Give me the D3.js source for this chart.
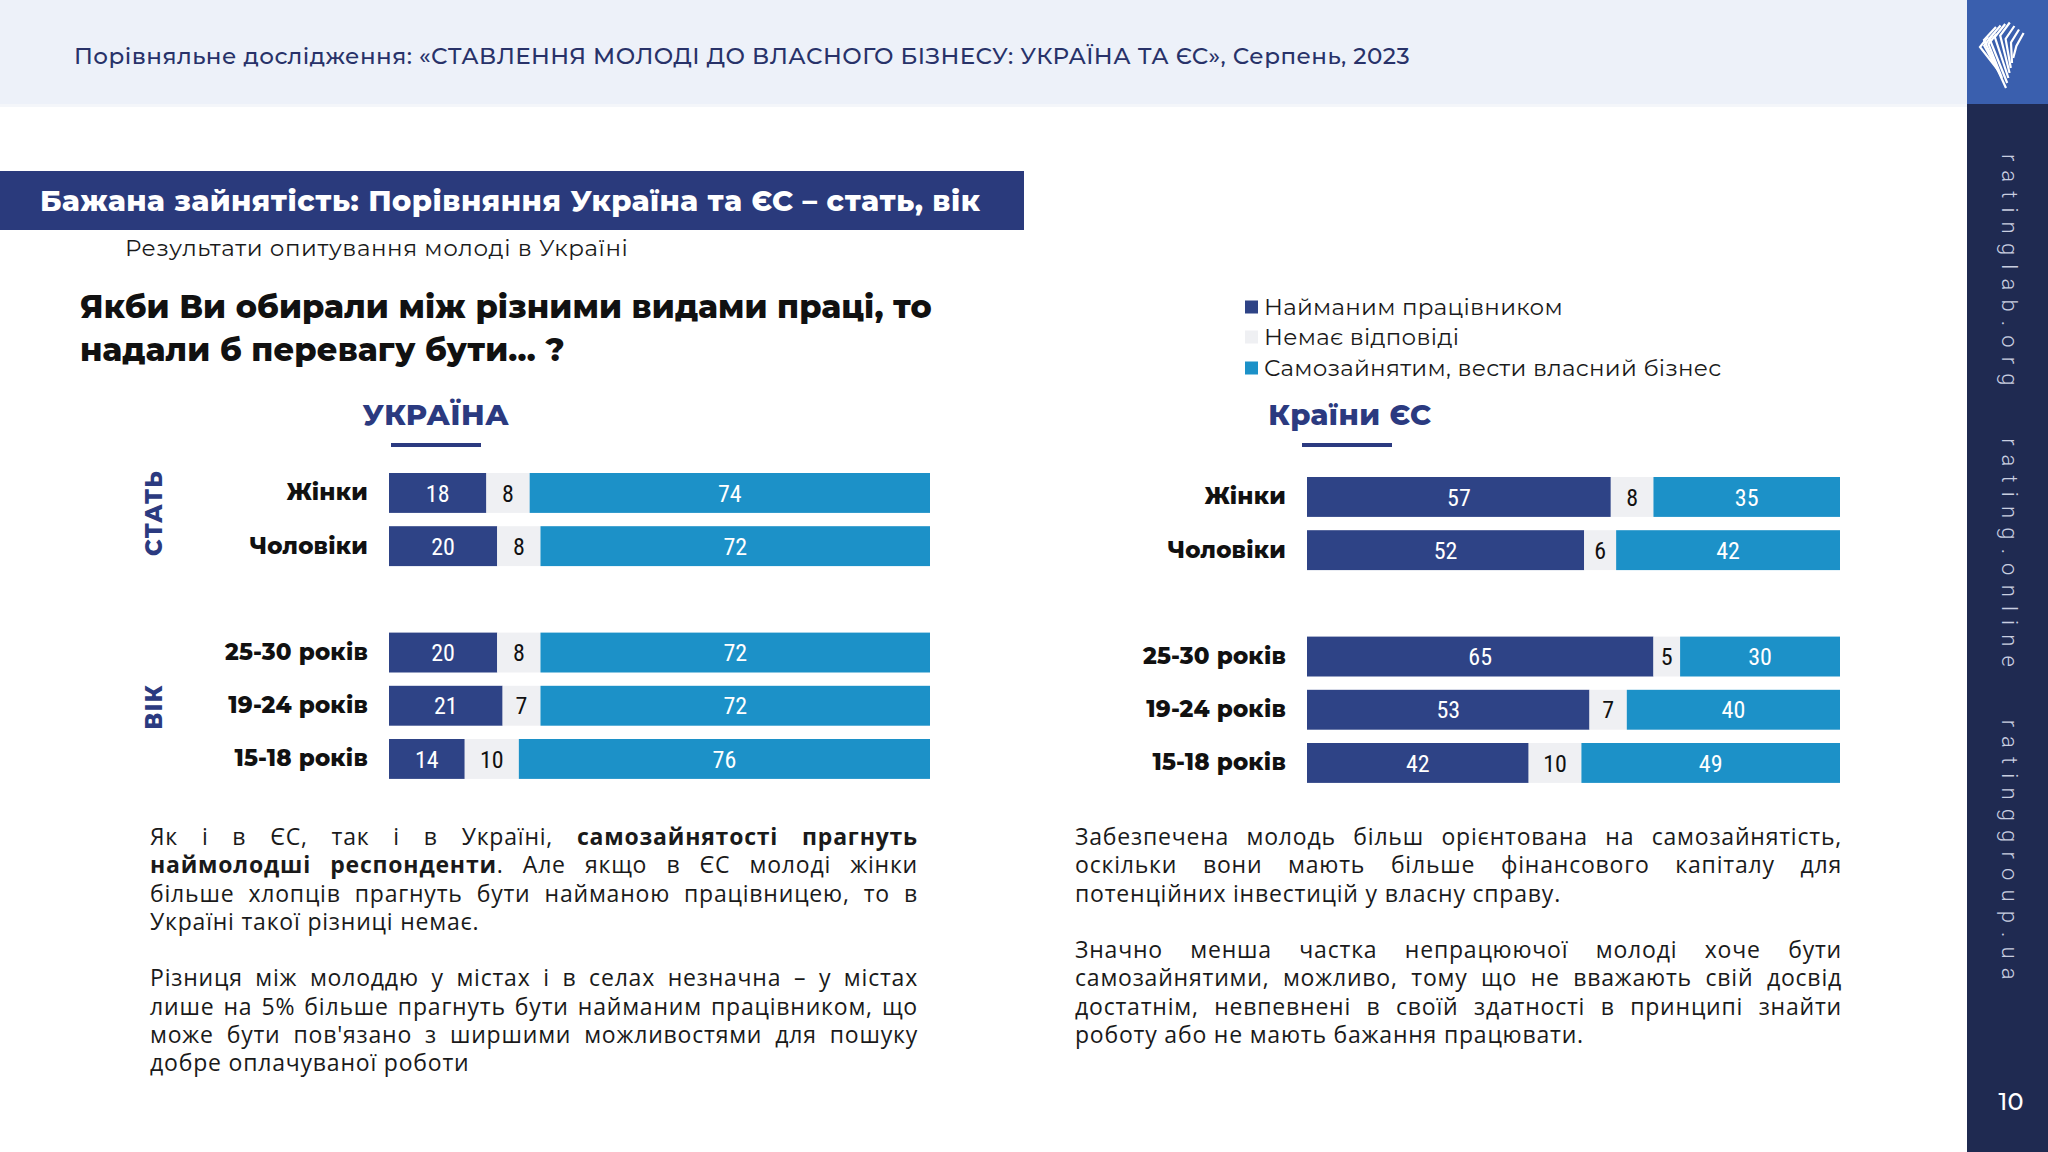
<!DOCTYPE html>
<html lang="uk">
<head>
<meta charset="utf-8">
<script src="https://cdn.jsdelivr.net/npm/d3@7"></script>
<style>
  html, body { margin: 0; padding: 0; background: #ffffff; }
  #page { position: relative; width: 2048px; height: 1152px; overflow: hidden; background: #fff; }
  svg { position: absolute; left: 0; top: 0; }
  .para { position: absolute; font-family: "Open Sans", "Noto Sans", sans-serif; font-size: 23px; letter-spacing: 0.8px; color: #1a1a1a; }
  .para .ln { height: 28.3px; line-height: 28.3px; white-space: nowrap; text-align: justify; text-align-last: justify; }
  .para .ln.last { text-align-last: left; }
  .para .gap { height: 28.3px; }
  .para b { font-weight: 700; }
</style>
</head>
<body>
<div id="page">
  <svg id="chart" width="2048" height="1152"></svg>
  <div class="para" id="pLeft" style="left:150px; top:822px; width:768px;"></div>
  <div class="para" id="pRight" style="left:1075px; top:822px; width:767px;"></div>
</div>
<script>
// ---------------- DATA ----------------
const categories = ["Жінки", "Чоловіки", "25-30 років", "19-24 років", "15-18 років"];
const groupLabels = ["СТАТЬ", "ВІК"];
const seriesNames = ["Найманим працівником", "Немає відповіді", "Самозайнятим, вести власний бізнес"];

const uaEmployee = [18, 20, 20, 21, 14];
const uaNoAnswer = [8, 8, 8, 7, 10];
const uaSelf     = [74, 72, 72, 72, 76];

const euEmployee = [57, 52, 65, 53, 42];
const euNoAnswer = [8, 6, 5, 7, 10];
const euSelf     = [35, 42, 30, 40, 49];

const headerText = "Порівняльне дослідження: «СТАВЛЕННЯ МОЛОДІ ДО ВЛАСНОГО БІЗНЕСУ: УКРАЇНА ТА ЄС», Серпень, 2023";
const titleText = "Бажана зайнятість: Порівняння Україна та ЄС – стать, вік";
const subtitleText = "Результати опитування молоді в Україні";
const questionLines = ["Якби Ви обирали між різними видами праці, то", "надали б перевагу бути… ?"];
const panelTitles = ["УКРАЇНА", "Країни ЄС"];
const sideText = "ratinglab.org   rating.online   ratinggroup.ua";
const pageNumber = "10";

const leftParagraphs = [
  ["Як і в ЄС, так і в Україні, <b>самозайнятості прагнуть</b>",
   "<b>наймолодші респонденти</b>. Але якщо в ЄС молоді жінки",
   "більше хлопців прагнуть бути найманою працівницею, то в",
   "Україні такої різниці немає."],
  ["Різниця між молоддю у містах і в селах незначна – у містах",
   "лише на 5% більше прагнуть бути найманим працівником, що",
   "може бути пов'язано з ширшими можливостями для пошуку",
   "добре оплачуваної роботи"]
];
const rightParagraphs = [
  ["Забезпечена молодь більш орієнтована на самозайнятість,",
   "оскільки вони мають більше фінансового капіталу для",
   "потенційних інвестицій у власну справу."],
  ["Значно менша частка непрацюючої молоді хоче бути",
   "самозайнятими, можливо, тому що не вважають свій досвід",
   "достатнім, невпевнені в своїй здатності в принципі знайти",
   "роботу або не мають бажання працювати."]
];

// ---------------- STYLE ----------------
const NAVY = "#2e4386";
const GREY = "#eff0f3";
const BLUE = "#1c91c8";
const colors = [NAVY, GREY, BLUE];
const textColors = ["#ffffff", "#111111", "#ffffff"];
const HEAD = "'Montserrat','Open Sans','Noto Sans',sans-serif";
const NARROW = "'Liberation Sans Narrow','Arial Narrow','Roboto Condensed','Liberation Sans',sans-serif";

const svg = d3.select("#chart");

// header band
svg.append("rect").attr("x", 0).attr("y", 0).attr("width", 1967).attr("height", 104).attr("fill", "#edf1f9");
svg.append("rect").attr("x", 0).attr("y", 104).attr("width", 1967).attr("height", 3).attr("fill", "#f4f6fa");
svg.append("text").attr("x", 74).attr("y", 64)
  .attr("font-family", HEAD).attr("font-size", 23).attr("font-weight", 500)
  .attr("letter-spacing", 0.45)
  .attr("fill", "#283269").text(headerText);

// sidebar
svg.append("rect").attr("x", 1967).attr("y", 0).attr("width", 81).attr("height", 1152).attr("fill", "#1f2a51");
svg.append("rect").attr("x", 1967).attr("y", 0).attr("width", 81).attr("height", 104).attr("fill", "#3a5fae");
// logo (stylised chevrons)
const logo = svg.append("g").attr("fill", "none").attr("stroke", "#ffffff").attr("stroke-width", 2.2);
for (let i = 0; i < 7; i++) {
  const tx = 1996 + i * 4.6, ty = 27 - i * 1.5 + (i > 3 ? (i - 3) * 5 : 0);
  const lx = tx - 12 + i * 0.8, ly = ty + 13;
  logo.append("polyline").attr("points", `${tx},${ty} ${lx},${ly} ${2006 + i * 1.2},${88 - i * 5}`);
}
for (let i = 0; i < 3; i++) {
  const tx = 1988 + i * 4.2, ty = 37 - i * 1.5;
  logo.append("polyline").attr("points", `${tx},${ty} ${tx - 8},${ty + 10} ${1998 + i * 2},${70 + i * 4}`);
}
svg.append("text")
  .attr("transform", "translate(2002,154) rotate(90)")
  .attr("font-family", "Roboto,'Open Sans',sans-serif").attr("font-weight", 300)
  .attr("font-size", 22).attr("letter-spacing", 9.2).attr("fill", "#c9cee0")
  .attr("xml:space", "preserve").style("white-space", "pre")
  .text(sideText);
svg.append("text").attr("x", 2011).attr("y", 1110).attr("text-anchor", "middle")
  .attr("font-family", HEAD).attr("font-size", 24).attr("font-weight", 500).attr("fill", "#ffffff")
  .text(pageNumber);

// title band
svg.append("rect").attr("x", 0).attr("y", 171).attr("width", 1024).attr("height", 59).attr("fill", "#2a3a7c");
svg.append("text").attr("x", 40).attr("y", 211)
  .attr("font-family", HEAD).attr("font-size", 29).attr("font-weight", 800).attr("fill", "#ffffff")
  .attr("letter-spacing", 0.5)
  .text(titleText);
svg.append("text").attr("x", 125).attr("y", 256)
  .attr("font-family", HEAD).attr("font-size", 23).attr("font-weight", 400).attr("fill", "#1a1a1a")
  .attr("letter-spacing", 0.6)
  .text(subtitleText);
questionLines.forEach((l, i) => {
  svg.append("text").attr("x", 80).attr("y", 318 + i * 43)
    .attr("font-family", HEAD).attr("font-size", 32).attr("font-weight", 800).attr("fill", "#111111")
    .attr("letter-spacing", 0.15)
    .text(l);
});

// legend
const legendY = [307, 337, 368];
seriesNames.forEach((s, i) => {
  svg.append("rect").attr("x", 1245).attr("y", legendY[i] - 6.5).attr("width", 13).attr("height", 13).attr("fill", colors[i]);
  svg.append("text").attr("x", 1264).attr("y", legendY[i] + 8)
    .attr("font-family", HEAD).attr("font-size", 23).attr("font-weight", 400).attr("fill", "#1a1a1a")
    .attr("letter-spacing", 0.3)
    .text(s);
});

// panel titles
const panelCenters = [436, 1350];
panelTitles.forEach((t, i) => {
  svg.append("text").attr("x", panelCenters[i]).attr("y", 425).attr("text-anchor", "middle")
    .attr("font-family", HEAD).attr("font-size", 29).attr("font-weight", 800).attr("fill", "#2b3a80")
    .attr("letter-spacing", 0.5)
    .text(t);
  svg.append("rect").attr("x", panelCenters[i] - 45 - (i ? 3 : 0)).attr("y", 443).attr("width", 90).attr("height", 4).attr("fill", "#2b3a80");
});

// ---------------- CHARTS ----------------
const slots = ["Жінки", "Чоловіки", "__gap", "25-30 років", "19-24 років", "15-18 років"];

function drawChart(emp, na, self, x0, x1, yTop) {
  const rows = categories.map((c, i) => ({ cat: c, 0: emp[i], 1: na[i], 2: self[i] }));
  const stack = d3.stack().keys([0, 1, 2]).offset(d3.stackOffsetExpand);
  const layers = stack(rows);
  const x = d3.scaleLinear().domain([0, 1]).range([x0, x1]);
  const pad = 0.25;
  const step = 53.2;
  const y = d3.scaleBand().domain(slots)
    .range([yTop - pad * step, yTop - pad * step + step * (slots.length + pad)])
    .paddingInner(pad).paddingOuter(pad);

  const g = svg.append("g");
  const lg = g.selectAll("g.layer").data(layers).join("g").attr("class", "layer");
  lg.selectAll("rect").data(d => d).join("rect")
    .attr("x", d => x(d[0]))
    .attr("y", d => y(d.data.cat))
    .attr("width", d => x(d[1]) - x(d[0]))
    .attr("height", y.bandwidth())
    .attr("fill", (d, i, n) => colors[d3.select(n[i].parentNode).datum().key]);
  lg.selectAll("text").data(d => d.map(v => Object.assign(v, { key: d.key }))).join("text")
    .attr("x", d => (x(d[0]) + x(d[1])) / 2)
    .attr("y", d => y(d.data.cat) + y.bandwidth() / 2)
    .attr("dy", "0.36em")
    .attr("text-anchor", "middle")
    .attr("font-family", NARROW).attr("font-stretch", "condensed")
    .attr("font-size", 24)
    .attr("fill", d => textColors[d.key])
    .text(d => d.data[d.key]);

  const axis = g.append("g").attr("transform", `translate(${x0},0)`)
    .call(d3.axisLeft(y).tickSize(0).tickPadding(21).tickValues(categories));
  axis.select(".domain").remove();
  axis.selectAll("text")
    .attr("font-family", HEAD).attr("font-size", 23).attr("font-weight", 800).attr("fill", "#111111")
    .attr("letter-spacing", 0.2);
  return y;
}

drawChart(uaEmployee, uaNoAnswer, uaSelf, 389, 930, 473);
drawChart(euEmployee, euNoAnswer, euSelf, 1307, 1840, 477);

// group labels (UA only)
const groupY = [513, 707];
groupLabels.forEach((t, i) => {
  svg.append("text").attr("transform", `translate(162,${groupY[i]}) rotate(-90)`)
    .attr("text-anchor", "middle")
    .attr("font-family", HEAD).attr("font-size", 23).attr("font-weight", 800)
    .attr("letter-spacing", 1).attr("fill", "#2b3a80")
    .text(t);
});

// ---------------- PARAGRAPHS ----------------
function fillParas(sel, paras) {
  const box = d3.select(sel);
  paras.forEach((p, pi) => {
    if (pi > 0) box.append("div").attr("class", "gap");
    p.forEach((l, li) => {
      box.append("div").attr("class", "ln" + (li === p.length - 1 ? " last" : "")).html(l);
    });
  });
}
fillParas("#pLeft", leftParagraphs);
fillParas("#pRight", rightParagraphs);
</script>
</body>
</html>
